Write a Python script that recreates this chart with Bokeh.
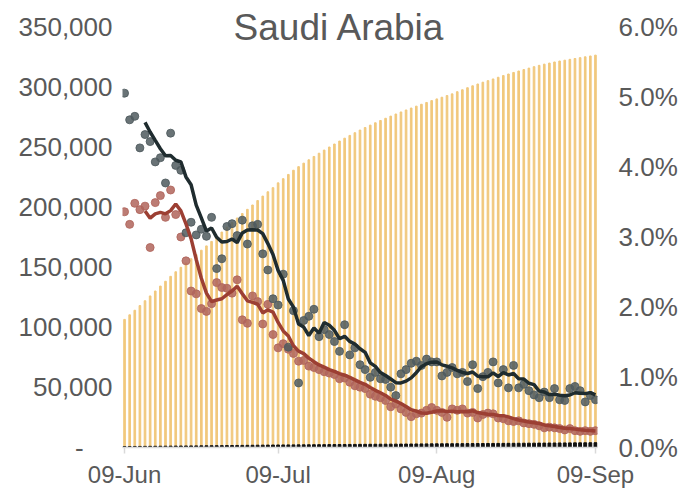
from bokeh.plotting import figure
from bokeh.models import Range1d, LinearAxis, FixedTicker, Label
from bokeh.embed import file_html
from bokeh.resources import INLINE
import pandas as pd

# ---- data ----
tick_days = [0, 30, 61, 92]
tick_labels = ["09-Jun", "09-Jul", "09-Aug", "09-Sep"]
left_ticks = [0, 50000, 100000, 150000, 200000, 250000, 300000, 350000]
left_labels = ["-\u2007\u2007", "50,000", "100,000", "150,000", "200,000", "250,000", "300,000", "350,000"]
right_ticks = [0.0, 0.01, 0.02, 0.03, 0.04, 0.05, 0.06]
right_labels = ["0.0%", "1.0%", "2.0%", "3.0%", "4.0%", "5.0%", "6.0%"]

# cumulative cases, thousands (yellow bars)
cases_k = [106.5, 110.3, 114.1, 118.0, 122.0, 126.0, 130.1, 134.2, 138.2, 142.3,
           146.1, 149.8, 153.4, 156.9, 160.4, 164.0, 167.6, 171.3, 175.2, 179.1,
           183.1, 187.0, 190.8, 194.5, 198.0, 201.6, 205.3, 209.0, 212.6, 216.0,
           220.0, 223.5, 227.0, 230.5, 233.5, 236.4, 239.2, 241.95, 244.65, 247.25,
           249.8, 252.3, 254.75, 257.15, 259.45, 261.7, 263.9, 266.0, 268.0, 269.95,
           271.85, 273.7, 275.5, 277.25, 278.95, 280.6, 282.2, 283.8, 285.35, 286.85,
           288.4, 289.8, 291.2, 292.6, 294.0, 295.8, 297.4, 299.1, 300.7, 302.2,
           303.7, 305.0, 306.4, 307.8, 309.2, 310.5, 311.8, 313.0, 314.2, 315.4,
           316.6, 317.7, 318.7, 319.6, 320.5, 321.3, 322.0, 322.7, 323.4, 324.1,
           324.8, 325.5, 326.2]

# cumulative deaths, thousands (black bars)
deaths_k = [0.78, 0.81, 0.85, 0.89, 0.93, 0.97, 1.01, 1.05, 1.09, 1.14,
            1.18, 1.23, 1.27, 1.31, 1.35, 1.39, 1.43, 1.47, 1.51, 1.55,
            1.60, 1.65, 1.70, 1.75, 1.80, 1.85, 1.90, 1.95, 2.00, 2.04,
            2.08, 2.11, 2.14, 2.17, 2.19, 2.22, 2.26, 2.30, 2.34, 2.37,
            2.41, 2.44, 2.47, 2.51, 2.54, 2.57, 2.60, 2.63, 2.66, 2.69,
            2.72, 2.74, 2.77, 2.79, 2.82, 2.85, 2.88, 2.92, 2.95, 2.98,
            3.02, 3.05, 3.08, 3.11, 3.14, 3.17, 3.20, 3.23, 3.26, 3.28,
            3.31, 3.34, 3.37, 3.40, 3.43, 3.46, 3.49, 3.52, 3.55, 3.58,
            3.61, 3.64, 3.67, 3.70, 3.73, 3.76, 3.79, 3.82, 3.85, 3.88,
            3.92, 3.95, 3.98]

# daily growth of deaths, % (dark dots)
death_growth = [5.05, 4.67, 4.72, 4.27, 4.46, 4.36, 4.07, 4.13, 3.77, 4.48,
                4.02, 3.95, 3.06, 3.21, 3.03, 3.11, 3.01, 3.28, 2.55, 2.69,
                3.15, 3.19, 3.02, 3.24, 2.90, 3.16, 3.18, 2.76, 2.53, 2.12,
                2.03, 2.47, 1.43, 1.95, 0.92, 1.81, 1.87, 1.97, 1.58, 1.68,
                1.61, 1.51, 1.37, 1.75, 1.32, 1.42, 1.18, 1.11, 1.00, 1.07,
                0.98, 0.97, 0.86, 0.74, 1.05, 1.11, 1.20, 1.23, 1.17, 1.26,
                1.22, 1.22, 1.02, 1.07, 1.14, 1.05, 1.07, 0.94, 1.18, 0.84,
                1.01, 1.07, 1.22, 0.92, 1.11, 0.85, 1.17, 0.85, 0.90, 0.81,
                0.75, 0.71, 0.79, 0.71, 0.84, 0.68, 0.67, 0.84, 0.87, 0.81,
                0.65, 0.74, 0.68]

# daily growth of cases, % (red dots)
case_growth = [3.36, 3.18, 3.48, 3.39, 3.44, 2.85, 3.49, 3.59, 3.28, 3.67,
               3.32, 3.00, 2.66, 2.23, 2.19, 1.98, 1.94, 2.05, 2.35, 2.28,
               2.27, 2.20, 2.39, 1.82, 1.77, 2.16, 2.08, 1.76, 2.04, 1.61,
               1.42, 1.48, 1.40, 1.34, 1.23, 1.24, 1.16, 1.14, 1.11, 1.08,
               1.06, 1.04, 0.98, 0.99, 0.93, 0.88, 0.86, 0.84, 0.76, 0.73,
               0.71, 0.67, 0.58, 0.62, 0.55, 0.50, 0.44, 0.48, 0.49, 0.53,
               0.57, 0.53, 0.50, 0.43, 0.55, 0.53, 0.55, 0.49, 0.50, 0.42,
               0.47, 0.49, 0.48, 0.42, 0.41, 0.38, 0.37, 0.38, 0.35, 0.34,
               0.33, 0.31, 0.28, 0.29, 0.28, 0.27, 0.25, 0.27, 0.24, 0.23,
               0.24, 0.23, 0.24]

days = list(range(len(cases_k)))
cases = [v * 1000 for v in cases_k]
deaths = [v * 1000 for v in deaths_k]
dg = [v / 100 for v in death_growth]
cg = [v / 100 for v in case_growth]
dg_ma = pd.Series(dg).rolling(5).mean()
cg_ma = pd.Series(cg).rolling(5).mean()

# ---- figure ----
W, H = 680, 493
FL, FW = 122, 483
AXIS_TOP_PX = 26          # pixel row of the 350,000 / 6.0% ticks
FRAME_BOTTOM_PX = 447     # pixel row of the zero line
FH = FRAME_BOTTOM_PX      # frame runs from the very top so the title is not clipped
scale = FH / (FRAME_BOTTOM_PX - AXIS_TOP_PX)
TXT = "#595959"
FONT = "Liberation Sans"

p = figure(width=W, height=H, output_backend="svg", toolbar_location=None,
           x_range=Range1d(-0.4, 92.4),
           y_range=Range1d(0, left_ticks[-1] * scale),
           min_border_left=FL, min_border_right=W - FL - FW,
           min_border_top=0, min_border_bottom=H - FH,
           background_fill_color="white", border_fill_color="white")
p.outline_line_color = None
p.grid.visible = False
p.extra_y_ranges = {"pct": Range1d(0, right_ticks[-1] * scale)}

p.vbar(x=days, top=cases, width=0.32, color="#F1C87D")
p.vbar(x=days, top=deaths, width=0.55, color="#111111")

p.scatter(days, cg, size=8, color="#B0655C", alpha=0.85, y_range_name="pct")
p.scatter(days, dg, size=8, color="#4F5A5E", alpha=0.85, y_range_name="pct")
p.line(days[4:], list(cg_ma[4:]), line_width=3.5, color="#9C3F33", y_range_name="pct")
p.line(days[4:], list(dg_ma[4:]), line_width=3.5, color="#1F2C2F", y_range_name="pct")

# x axis
xa = p.xaxis[0]
xa.ticker = FixedTicker(ticks=tick_days)
xa.major_label_overrides = {d: t for d, t in zip(tick_days, tick_labels)}
xa.axis_line_color = "#D9D9D9"
xa.axis_line_width = 1.5
xa.major_tick_line_color = "#D9D9D9"
xa.major_tick_line_width = 1.5
xa.major_tick_out = 6
xa.major_tick_in = 0
xa.minor_tick_line_color = None
xa.major_label_text_font_size = "24px"
xa.major_label_text_color = TXT
xa.major_label_text_font = FONT
xa.major_label_standoff = 7

# left axis
ya = p.yaxis[0]
ya.ticker = FixedTicker(ticks=left_ticks)
ya.major_label_overrides = {t: l for t, l in zip(left_ticks, left_labels)}
ya.axis_line_color = None
ya.major_tick_line_color = None
ya.minor_tick_line_color = None
ya.major_label_text_font_size = "26px"
ya.major_label_text_color = TXT
ya.major_label_text_font = FONT
ya.major_label_standoff = 4

# right axis
ra = LinearAxis(y_range_name="pct")
ra.ticker = FixedTicker(ticks=right_ticks)
ra.major_label_overrides = {t: l for t, l in zip(right_ticks, right_labels)}
ra.axis_line_color = None
ra.major_tick_line_color = None
ra.minor_tick_line_color = None
ra.major_label_text_font_size = "26px"
ra.major_label_text_color = TXT
ra.major_label_text_font = FONT
ra.major_label_standoff = 15
p.add_layout(ra, "right")

title = Label(x=42.0, y=349000, text="Saudi Arabia", text_align="center",
              text_baseline="alphabetic", text_font_size="37px",
              text_color=TXT, text_font=FONT)
p.add_layout(title)

open("out.html", "w").write(file_html(p, INLINE))
